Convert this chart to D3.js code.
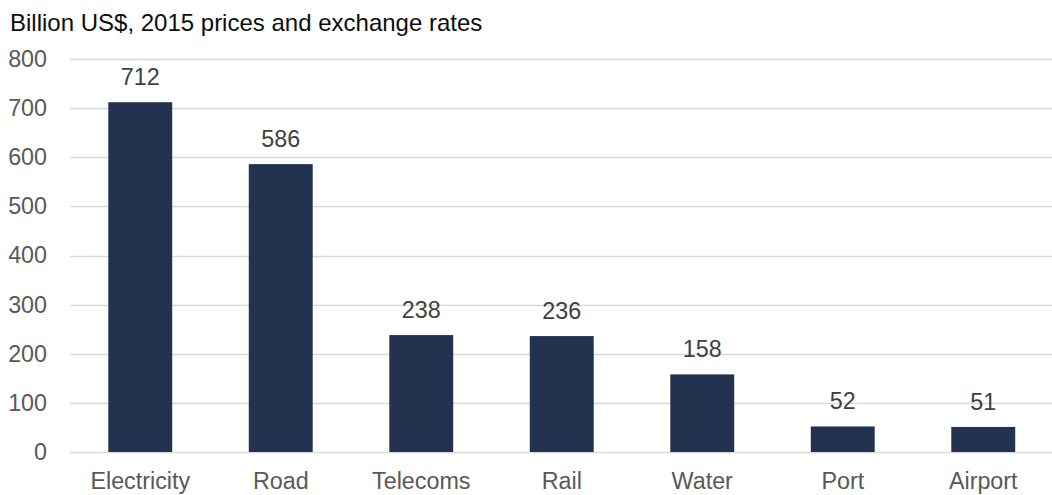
<!DOCTYPE html>
<html><head><meta charset="utf-8">
<script src="https://cdn.jsdelivr.net/npm/d3@7"></script>
<style>body{margin:0;background:#fff}svg{display:block;font-family:"Liberation Sans",Arial,sans-serif}</style>
</head><body><svg id="c" width="1052" height="495"></svg>
<script>
const categories = ["Electricity","Road","Telecoms","Rail","Water","Port","Airport"];
const values = [712,586,238,236,158,52,51];
const yTicks = [0,100,200,300,400,500,600,700,800];
const title = "Billion US$, 2015 prices and exchange rates";

const svg = d3.select("#c");
const m = {left:70, top:59, bottom:43};
const H = 495;
const x = d3.scaleBand().domain(categories).range([m.left, 1053.5]).paddingInner(0.545).paddingOuter(0.2725);
const y = d3.scaleLinear().domain([0,800]).range([H-m.bottom, m.top]);
const FS = 23.3;

svg.append("text").attr("x",10).attr("y",31).attr("font-size",24).attr("fill","#0d0d0d").text(title);

const grid = svg.append("g");
grid.selectAll("line").data(yTicks).join("line")
  .attr("x1",m.left).attr("x2",1052).attr("y1",d=>Math.round(y(d))+0.5).attr("y2",d=>Math.round(y(d))+0.5)
  .attr("stroke","#d9d9d9").attr("stroke-width",1.5);

const yAxis = svg.append("g").attr("transform",`translate(${m.left},0)`)
  .call(d3.axisLeft(y).tickValues(yTicks).tickSize(0).tickPadding(23));
yAxis.select(".domain").remove();
yAxis.selectAll("text").attr("font-size",FS).attr("fill","#595959").attr("font-family","Liberation Sans, Arial, sans-serif");

svg.selectAll("rect.bar").data(values).join("rect").attr("class","bar")
  .attr("x",(d,i)=>x(categories[i])).attr("width",x.bandwidth())
  .attr("y",d=>y(d)).attr("height",d=>y(0)-y(d)).attr("fill","#22324f");

svg.selectAll("text.val").data(values).join("text").attr("class","val")
  .attr("x",(d,i)=>x(categories[i])+x.bandwidth()/2).attr("y",d=>y(d)-17)
  .attr("text-anchor","middle").attr("font-size",FS).attr("fill","#404040").text(d=>d);

const xAxis = svg.append("g").attr("transform",`translate(0,${y(0)})`)
  .call(d3.axisBottom(x).tickSize(0).tickPadding(20));
xAxis.select(".domain").remove();
xAxis.selectAll("text").attr("font-size",FS).attr("fill","#595959").attr("font-family","Liberation Sans, Arial, sans-serif");
</script></body></html>
